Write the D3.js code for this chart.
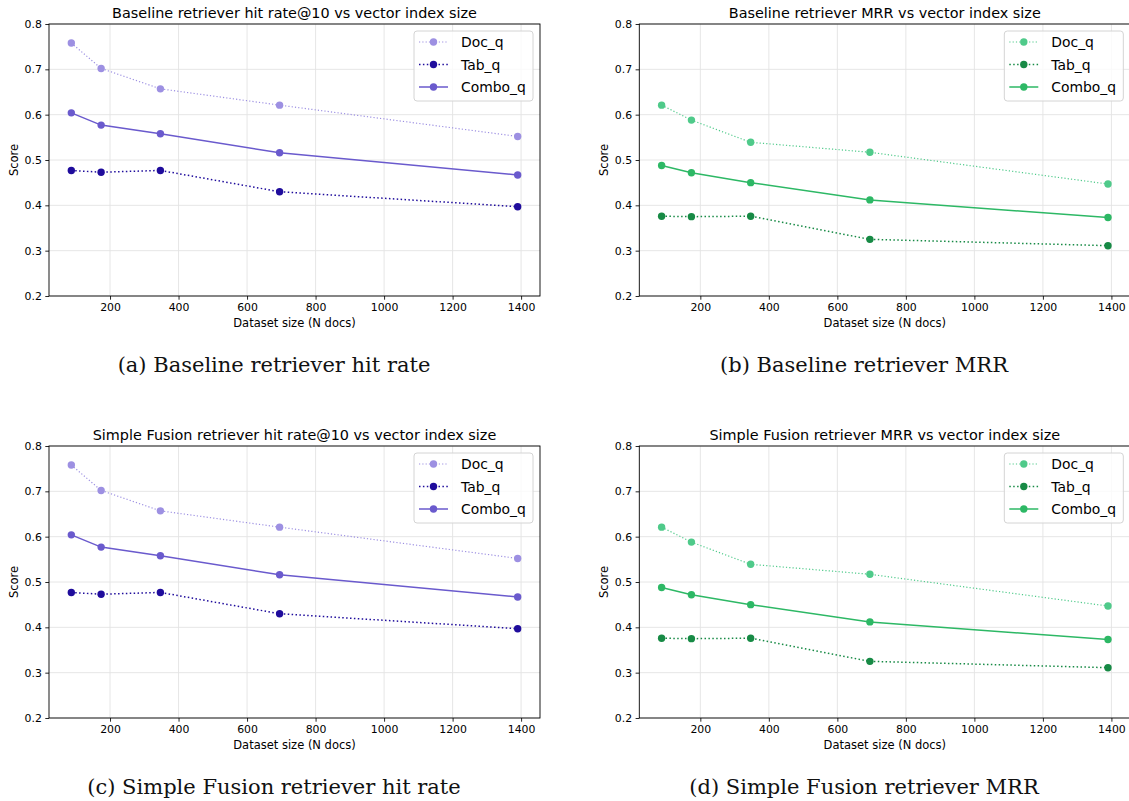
<!DOCTYPE html>
<html>
<head>
<meta charset="utf-8">
<script src="https://cdn.jsdelivr.net/npm/d3@7"></script>
<style>
  body { margin: 0; background: #fff; }
  svg { display: block; }
</style>
</head>
<body>
<div id="chart"></div>
<script>
// Data
const docSizes = [87, 174, 347, 695, 1390];
const seriesNames = ["Doc_q", "Tab_q", "Combo_q"];
const xTicks = [200, 400, 600, 800, 1000, 1200, 1400];
const yTicks = [0.2, 0.3, 0.4, 0.5, 0.6, 0.7, 0.8];

const baselineHitDoc = [0.758, 0.702, 0.657, 0.621, 0.552];
const baselineHitTab = [0.477, 0.473, 0.477, 0.430, 0.397];
const baselineHitCombo = [0.604, 0.577, 0.558, 0.516, 0.467];

const baselineMrrDoc = [0.621, 0.588, 0.539, 0.517, 0.447];
const baselineMrrTab = [0.376, 0.375, 0.376, 0.325, 0.311];
const baselineMrrCombo = [0.488, 0.472, 0.450, 0.412, 0.373];

const fusionHitDoc = [0.758, 0.702, 0.657, 0.621, 0.552];
const fusionHitTab = [0.477, 0.473, 0.477, 0.430, 0.397];
const fusionHitCombo = [0.604, 0.577, 0.558, 0.516, 0.467];

const fusionMrrDoc = [0.621, 0.588, 0.539, 0.517, 0.447];
const fusionMrrTab = [0.376, 0.375, 0.376, 0.325, 0.311];
const fusionMrrCombo = [0.488, 0.472, 0.450, 0.412, 0.373];

const purples = ["#9d90e2", "#1f0c9c", "#6a5acd"];
const greens = ["#4fca8a", "#178a45", "#2db865"];

const panels = [
    {x: 49, y: 24, title: "Baseline retriever hit rate@10 vs vector index size",
     caption: "(a) Baseline retriever hit rate", colors: purples,
     values: [baselineHitDoc, baselineHitTab, baselineHitCombo]},
    {x: 639.3, y: 24, title: "Baseline retriever MRR vs vector index size",
     caption: "(b) Baseline retriever MRR", colors: greens,
     values: [baselineMrrDoc, baselineMrrTab, baselineMrrCombo]},
    {x: 49, y: 446, title: "Simple Fusion retriever hit rate@10 vs vector index size",
     caption: "(c) Simple Fusion retriever hit rate", colors: purples,
     values: [fusionHitDoc, fusionHitTab, fusionHitCombo]},
    {x: 639.3, y: 446, title: "Simple Fusion retriever MRR vs vector index size",
     caption: "(d) Simple Fusion retriever MRR", colors: greens,
     values: [fusionMrrDoc, fusionMrrTab, fusionMrrCombo]}
];

// line style per series: dotted, dotted, solid
const styles = [
    {width: 1.2, dash: "1.2,2.1"},
    {width: 1.5, dash: "1.5,2.4"},
    {width: 1.5, dash: null}
];

const W = 1129, H = 801;
const pw = 491, ph = 272;
const sansFont = "DejaVu Sans, sans-serif";

const svg = d3.select("#chart").append("svg")
    .attr("width", W)
    .attr("height", H);

// matplotlib-like 5% margin on x
const [xmin, xmax] = d3.extent(docSizes);
const pad = (xmax - xmin) * 0.05;
const xScale = d3.scaleLinear().domain([xmin - pad, xmax + pad]).range([0, pw]);
const yScale = d3.scaleLinear().domain([0.2, 0.8]).range([ph, 0]);

panels.forEach(p => {
    const g = svg.append("g").attr("transform", `translate(${p.x},${p.y})`);

    // Grid
    g.append("g").selectAll("line").data(xTicks).join("line")
        .attr("x1", d => xScale(d)).attr("x2", d => xScale(d))
        .attr("y1", 0).attr("y2", ph)
        .attr("stroke", "#e3e3e3").attr("stroke-width", 0.9);
    g.append("g").selectAll("line").data(yTicks).join("line")
        .attr("x1", 0).attr("x2", pw)
        .attr("y1", d => yScale(d)).attr("y2", d => yScale(d))
        .attr("stroke", "#e3e3e3").attr("stroke-width", 0.9);

    // Series
    p.values.forEach((vals, i) => {
        const pts = docSizes.map((x, j) => [x, vals[j]]);
        const line = d3.line().x(d => xScale(d[0])).y(d => yScale(d[1]));
        g.append("path")
            .attr("d", line(pts))
            .attr("fill", "none")
            .attr("stroke", p.colors[i])
            .attr("stroke-width", styles[i].width)
            .attr("stroke-dasharray", styles[i].dash);
        g.append("g").selectAll("circle").data(pts).join("circle")
            .attr("cx", d => xScale(d[0]))
            .attr("cy", d => yScale(d[1]))
            .attr("r", 3.7)
            .attr("fill", p.colors[i]);
    });

    // Axes
    const xAxis = g.append("g")
        .attr("transform", `translate(0,${ph})`)
        .call(d3.axisBottom(xScale).tickValues(xTicks).tickFormat(d3.format("d"))
            .tickSize(3.7).tickPadding(3.5).tickSizeOuter(0));
    const yAxis = g.append("g")
        .call(d3.axisLeft(yScale).tickValues(yTicks).tickFormat(d3.format(".1f"))
            .tickSize(3.7).tickPadding(3.5).tickSizeOuter(0));
    [xAxis, yAxis].forEach(a => {
        a.select(".domain").remove();
        a.selectAll("line").attr("stroke", "#000").attr("stroke-width", 0.85);
        a.selectAll("text").attr("font-family", sansFont).attr("font-size", "10.9px").attr("fill", "#000");
    });

    // Frame
    g.append("rect")
        .attr("x", 0).attr("y", 0).attr("width", pw).attr("height", ph)
        .attr("fill", "none").attr("stroke", "#000").attr("stroke-width", 0.9);

    // Title and axis labels
    g.append("text")
        .attr("x", pw / 2).attr("y", -5.7)
        .attr("text-anchor", "middle")
        .attr("font-family", sansFont).attr("font-size", "14.4px")
        .text(p.title);
    g.append("text")
        .attr("x", pw / 2).attr("y", ph + 31)
        .attr("text-anchor", "middle")
        .attr("font-family", sansFont).attr("font-size", "11.5px")
        .text("Dataset size (N docs)");
    g.append("text")
        .attr("transform", `translate(-31,${ph / 2}) rotate(-90)`)
        .attr("text-anchor", "middle")
        .attr("font-family", sansFont).attr("font-size", "11.5px")
        .text("Score");

    // Legend
    const lw = 119, lh = 70;
    const lg = g.append("g").attr("transform", `translate(${pw - 7 - lw},7)`);
    lg.append("rect")
        .attr("width", lw).attr("height", lh).attr("rx", 3)
        .attr("fill", "#fff").attr("fill-opacity", 0.8)
        .attr("stroke", "#d4d4d4").attr("stroke-width", 1);
    seriesNames.forEach((name, i) => {
        const ry = 11 + i * 22.5;
        lg.append("line")
            .attr("x1", 5).attr("x2", 34).attr("y1", ry).attr("y2", ry)
            .attr("stroke", p.colors[i])
            .attr("stroke-width", styles[i].width)
            .attr("stroke-dasharray", styles[i].dash);
        lg.append("circle")
            .attr("cx", 19.5).attr("cy", ry).attr("r", 3.7)
            .attr("fill", p.colors[i]);
        lg.append("text")
            .attr("x", 47).attr("y", ry + 5)
            .attr("font-family", sansFont).attr("font-size", "13.9px")
            .text(name);
    });

    // Subfigure caption
    svg.append("text")
        .attr("x", p.x < 300 ? 274 : 864)
        .attr("y", p.y + 348)
        .attr("text-anchor", "middle")
        .attr("font-family", "DejaVu Serif, serif").attr("font-size", "21px")
        .attr("fill", "#111")
        .text(p.caption);
});
</script>
</body>
</html>
